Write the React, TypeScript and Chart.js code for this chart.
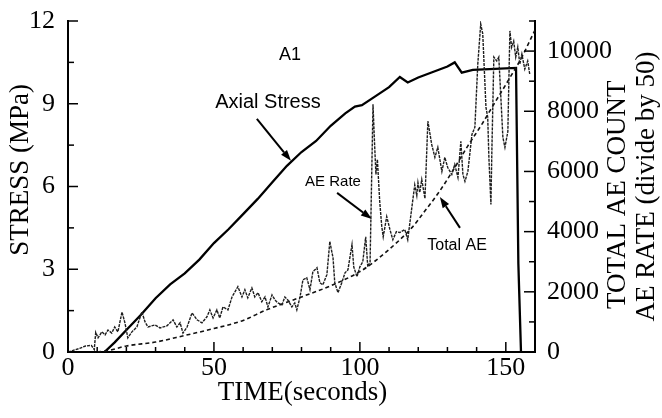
import React, { useEffect, useRef } from "react";
import { Chart, registerables } from "chart.js";

Chart.register(...registerables);

// ---- tick labels ----
const xTickLabels = [0, 50, 100, 150];
const stressTickLabels = [0, 3, 6, 9, 12];
const aeTickLabels = [0, 2000, 4000, 6000, 8000, 10000];

// ---- Axial stress (MPa) ----
const stressTime = [12.5, 16, 20, 25, 30, 35, 40, 45, 50, 55, 60, 65, 70, 75, 80, 85, 90, 95, 98.3, 100.7, 105, 110, 113.7, 116.4, 120, 125, 130, 132.5, 134.9, 138.7, 153.5, 154.3, 155.2];
const stressMPa = [0, 0.35, 0.8, 1.35, 1.95, 2.45, 2.85, 3.35, 3.95, 4.45, 5.0, 5.55, 6.15, 6.75, 7.25, 7.65, 8.2, 8.65, 8.9, 8.95, 9.25, 9.6, 9.97, 9.77, 9.95, 10.15, 10.35, 10.5, 10.13, 10.23, 10.3, 3.2, 0];

// ---- AE rate (divide by 50) ----
const aeRateTime = [0, 2, 4, 6, 8, 9, 9.5, 10.3, 11.6, 12.7, 13.7, 15, 16, 17.1, 18.5, 19.5, 20.5, 21.9, 23.6, 25.3, 26.4, 27.4, 29.8, 31.5, 33.9, 36, 37.3, 38.4, 39.4, 40.8, 42.5, 44.2, 45.9, 47.6, 48.6, 49.7, 51, 52, 53.1, 54.8, 56.2, 57.2, 58.2, 59.6, 60.6, 61.6, 63, 64, 65.1, 66.4, 67.5, 68.5, 69.9, 70.9, 71.9, 73.3, 74.3, 75.3, 76.7, 77.7, 78.4, 79.5, 80.5, 81.8, 82.9, 83.9, 85.3, 86.3, 87.3, 88.7, 89.7, 90.8, 91.4, 92.5, 93.8, 94.9, 95.9, 97.3, 97.9, 99, 100, 101, 102, 102.7, 103.5, 104.5, 105, 105.5, 106, 106.8, 107.5, 108, 109.2, 110.3, 111.3, 112.5, 113.7, 115.4, 116.4, 117.8, 118.8, 119.5, 119.9, 120.5, 121.2, 122.3, 123.3, 124.6, 125.7, 126.7, 128.1, 129.1, 130.1, 131.5, 132.5, 133.6, 134.6, 135.3, 136, 137, 138.4, 139.4, 140.4, 141.4, 142.1, 143.2, 143.8, 144.2, 144.9, 145.2, 145.9, 146.9, 147.6, 148.3, 149, 149.7, 150.7, 151, 151.4, 152, 152.7, 153.4, 154.1, 154.8, 155.5, 156.5, 157.5, 158.2];
const aeRateValue = [0, 60, 120, 200, 220, 80, 650, 470, 670, 570, 730, 630, 830, 670, 1330, 970, 470, 670, 830, 1330, 1000, 830, 900, 800, 870, 1070, 830, 970, 630, 830, 1300, 1070, 970, 1170, 1400, 1130, 1400, 1130, 1500, 1400, 1830, 2000, 2170, 1830, 2070, 1800, 2130, 1830, 1970, 1670, 1830, 1500, 1900, 1730, 1630, 1570, 1830, 1730, 1500, 1630, 1400, 1830, 2400, 2470, 2070, 2670, 2800, 2300, 2230, 2570, 3670, 3130, 2300, 1970, 2300, 2630, 2730, 3570, 2830, 2500, 2830, 3000, 3830, 2830, 3000, 8230, 7000, 5900, 6400, 5000, 4170, 3830, 4500, 4070, 3730, 4000, 3970, 4070, 3730, 4800, 5550, 5200, 5630, 5300, 5730, 5100, 7670, 6900, 6470, 6800, 6000, 6470, 6130, 5900, 6230, 5800, 7000, 5900, 5670, 6000, 7230, 7470, 9570, 10900, 10570, 8130, 7800, 6470, 4900, 6570, 9800, 9670, 9800, 8470, 7130, 6800, 7330, 8800, 10670, 10130, 10330, 9800, 10130, 9570, 9900, 9400, 9670, 9230];

// ---- Total AE count ----
const totalAeTime = [10, 14, 20, 30, 40, 50, 60, 68, 80, 90, 100, 104.5, 113.7, 118, 122, 127, 132, 137, 142, 146, 151, 155.5, 159, 160];
const totalAeValue = [0, 50, 200, 330, 550, 780, 1050, 1400, 1830, 2200, 2670, 2970, 3730, 4150, 4650, 5300, 6050, 6850, 7600, 8250, 9050, 9800, 10500, 10700];

const pts = (xs: number[], ys: number[]) => xs.map((x, i) => ({ x, y: ys[i] }));

const SERIF = "'Liberation Serif', 'Times New Roman', serif";
const SANS = "'Liberation Sans', Arial, sans-serif";

const near = (v: number, list: number[]) => list.some((l) => Math.abs(l - v) < 1e-6);

function arrow(ctx: CanvasRenderingContext2D, x1: number, y1: number, x2: number, y2: number) {
  const ang = Math.atan2(y2 - y1, x2 - x1);
  const hl = 11, hw = 3.8;
  const bx = x2 - hl * Math.cos(ang), by = y2 - hl * Math.sin(ang);
  ctx.beginPath();
  ctx.moveTo(x1, y1);
  ctx.lineTo(bx, by);
  ctx.stroke();
  ctx.beginPath();
  ctx.moveTo(x2, y2);
  ctx.lineTo(bx + hw * Math.sin(ang), by - hw * Math.cos(ang));
  ctx.lineTo(bx - hw * Math.sin(ang), by + hw * Math.cos(ang));
  ctx.closePath();
  ctx.fill();
}

const decorPlugin = {
  id: "decor",
  afterDraw(chart: any) {
    const { ctx, chartArea: a, scales } = chart;
    const sx = scales.x, sy = scales.y, sy1 = scales.y1;
    ctx.save();
    ctx.strokeStyle = "#000";
    ctx.fillStyle = "#000";
    ctx.lineWidth = 1.5;
    // inward tick marks
    sx.ticks.forEach((t: any) => {
      const p = sx.getPixelForValue(t.value);
      const len = near(t.value, xTickLabels) ? 10 : 5;
      ctx.beginPath();
      ctx.moveTo(p, a.bottom);
      ctx.lineTo(p, a.bottom - len);
      ctx.stroke();
    });
    sy.ticks.forEach((t: any) => {
      const p = sy.getPixelForValue(t.value);
      const len = near(t.value, stressTickLabels) ? 10 : 6;
      ctx.beginPath();
      ctx.moveTo(a.left, p);
      ctx.lineTo(a.left + len, p);
      ctx.stroke();
    });
    sy1.ticks.forEach((t: any) => {
      const p = sy1.getPixelForValue(t.value);
      const len = near(t.value, aeTickLabels) ? 11 : 6;
      ctx.beginPath();
      ctx.moveTo(a.right, p);
      ctx.lineTo(a.right - len, p);
      ctx.stroke();
    });

    // axis titles
    ctx.font = `27px ${SERIF}`;
    ctx.textAlign = "center";
    ctx.textBaseline = "middle";
    ctx.fillText("TIME(seconds)", (a.left + a.right) / 2 + 1, a.bottom + 41);
    const vtext = (s: string, cx: number, cy: number) => {
      ctx.save();
      ctx.translate(cx, cy);
      ctx.rotate(-Math.PI / 2);
      ctx.fillText(s, 0, 0);
      ctx.restore();
    };
    vtext("STRESS (MPa)", a.left - 47, sy.getPixelForValue(6.6));
    vtext("TOTAL AE COUNT", a.right + 83, sy.getPixelForValue(5.7));
    vtext("AE RATE (divide by 50)", a.right + 112, sy.getPixelForValue(6.0));

    // annotations (positions in data units: seconds, MPa)
    const X = (v: number) => sx.getPixelForValue(v);
    const Y = (v: number) => sy.getPixelForValue(v);
    ctx.font = `18px ${SANS}`;
    ctx.fillText("A1", X(76.1), Y(10.77));
    ctx.font = `20px ${SANS}`;
    ctx.fillText("Axial Stress", X(68.5), Y(9.06));
    ctx.font = `15px ${SANS}`;
    ctx.fillText("AE Rate", X(90.8), Y(6.16));
    ctx.font = `16px ${SANS}`;
    ctx.fillText("Total AE", X(133.3), Y(3.84));
    ctx.lineWidth = 2;
    arrow(ctx, X(64.7), Y(8.45), X(76.4), Y(6.93));
    arrow(ctx, X(92.2), Y(5.77), X(104.1), Y(4.82));
    arrow(ctx, X(134.3), Y(4.5), X(127.4), Y(5.62));
    ctx.restore();
  },
};

export default function App() {
  const ref = useRef<HTMLCanvasElement>(null);
  useEffect(() => {
    if (!ref.current) return;
    const tickFont = { family: SERIF, size: 26 };
    const chart = new Chart(ref.current, {
      type: "line",
      data: {
        datasets: [
          {
            label: "AE Rate",
            data: pts(aeRateTime, aeRateValue),
            yAxisID: "y1",
            borderColor: "#1e1e1e",
            borderWidth: 1.4,
            borderDash: [3, 1],
            pointRadius: 0,
            tension: 0,
          },
          {
            label: "Total AE",
            data: pts(totalAeTime, totalAeValue),
            yAxisID: "y1",
            borderColor: "#111",
            borderWidth: 1.6,
            borderDash: [4, 3],
            pointRadius: 0,
            cubicInterpolationMode: "monotone",
          },
          {
            label: "Axial Stress",
            data: pts(stressTime, stressMPa),
            yAxisID: "y",
            borderColor: "#000",
            borderWidth: 2.3,
            pointRadius: 0,
            tension: 0,
          },
        ],
      },
      options: {
        animation: false,
        responsive: false,
        devicePixelRatio: 1,
        layout: { padding: { top: 21, left: 0, right: 0, bottom: 0 } },
        plugins: { legend: { display: false }, tooltip: { enabled: false } },
        scales: {
          x: {
            type: "linear",
            min: 0,
            max: 160,
            grid: { display: false },
            border: { display: true, color: "#000", width: 2 },
            ticks: {
              stepSize: 10,
              autoSkip: false,
              maxRotation: 0,
              padding: -7,
              color: "#000",
              font: tickFont,
              callback: (v: any) => (near(Number(v), xTickLabels) ? String(v) : ""),
            },
            afterFit: (s: any) => {
              s.height = 66;
            },
          },
          y: {
            type: "linear",
            position: "left",
            min: 0,
            max: 12,
            grid: { display: false },
            border: { display: true, color: "#000", width: 2 },
            ticks: {
              stepSize: 1.5,
              autoSkip: false,
              padding: 5,
              color: "#000",
              font: tickFont,
              callback: (v: any) => (near(Number(v), stressTickLabels) ? String(Math.round(Number(v))) : ""),
            },
            afterFit: (s: any) => {
              s.width = 68;
            },
          },
          y1: {
            type: "linear",
            position: "right",
            min: 0,
            max: 11000,
            grid: { display: false },
            border: { display: true, color: "#000", width: 2 },
            ticks: {
              stepSize: 1000,
              autoSkip: false,
              padding: 4,
              color: "#000",
              font: tickFont,
              callback: (v: any) => (near(Number(v), aeTickLabels) ? String(v) : ""),
            },
            afterFit: (s: any) => {
              s.width = 127;
            },
          },
        },
      },
      plugins: [decorPlugin],
    } as any);
    return () => chart.destroy();
  }, []);
  return (
    <div style={{ position: "absolute", left: 0, top: 0, width: 662, height: 418, background: "#fff" }}>
      <canvas ref={ref} width={662} height={418} style={{ display: "block" }} />
    </div>
  );
}
